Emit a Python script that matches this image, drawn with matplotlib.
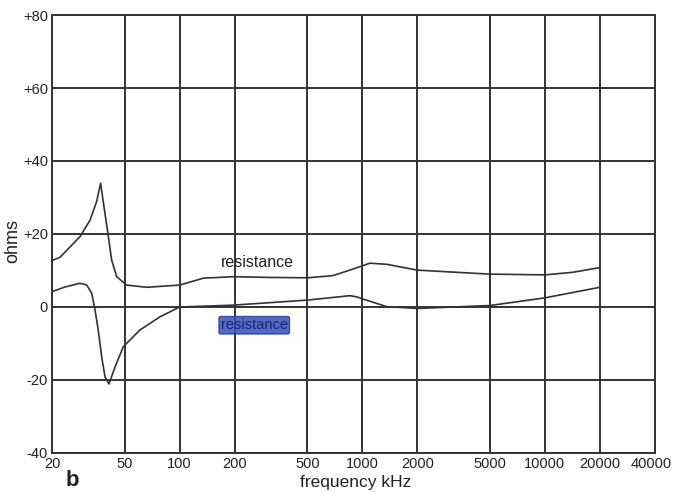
"""
impedance_plot.py
resistance / reactance vs frequency
"""
import matplotlib
matplotlib.use('Agg')
import matplotlib.pyplot as plt
import matplotlib.transforms as mtransforms
import numpy as np

plt.rcParams['font.family'] = ['Liberation Sans', 'DejaVu Sans']

# frequency ticks (kHz) and ohm ticks
xticks = [20, 50, 100, 200, 500, 1000, 2000, 5000, 10000, 20000, 40000]
yticks = [80, 60, 40, 20, 0, -20, -40]
ytick_labels = ['+80', '+60', '+40', '+20', '0', '-20', '-40']

# resistance curve
res_f = [20, 22.1, 28.5, 32.3, 35.1, 36.9, 38.5, 40.7, 42.4, 45.2, 51.3, 66, 100,
         135, 196, 312, 504, 690, 855, 1100, 1360, 2000, 5000, 10000, 14200, 20000]
res_ohm = [12.7, 13.6, 19.3, 23.8, 28.9, 33.9, 27.5, 19.3, 12.9, 8.3, 6.0, 5.4, 6.0,
           7.9, 8.3, 8.1, 8.0, 8.6, 10.1, 12.0, 11.7, 10.1, 9.0, 8.8, 9.5, 10.8]

# reactance curve
rea_f = [20, 23.6, 28.5, 31.0, 33.0, 34.4, 35.8, 37.4, 39.0, 41.0, 44.3, 49.1, 60.6,
         78, 100, 196, 504, 855, 930, 1007, 1360, 2000, 5000, 10000, 20000]
rea_ohm = [4.2, 5.5, 6.5, 6.0, 3.75, -0.8, -6.3, -13.6, -19.1, -21.1, -16.4, -10.9, -6.3,
           -2.7, 0.0, 0.5, 1.9, 3.1, 2.8, 2.2, 0.1, -0.4, 0.4, 2.5, 5.4]

fig = plt.figure(figsize=(6.73, 4.92), dpi=100)
ax = fig.add_axes([0.0773, 0.0793, 0.8957, 0.8902])

ax.plot(res_f, res_ohm, color='#333333', lw=1.2)
ax.plot(rea_f, rea_ohm, color='#333333', lw=1.2)

ax.set_xscale('log')
ax.set_xlim(20, 40000)
ax.set_ylim(-40, 80)
ax.set_xticks(xticks)
ax.set_xticklabels([str(t) for t in xticks])
ax.minorticks_off()
ax.set_yticks(yticks)
ax.set_yticklabels(ytick_labels)
ax.tick_params(length=0, labelsize=10.5, colors='#222222', pad=3)
ax.grid(True, color='#333333', lw=1.4)
for s in ax.spines.values():
    s.set_color('#333333')
    s.set_linewidth(1.4)

# last label sits against the right edge
last = ax.get_xticklabels()[-1]
last.set_horizontalalignment('right')
last.set_transform(last.get_transform() +
                   mtransforms.ScaledTranslation(17 / 100, 0, fig.dpi_scale_trans))

ax.text(265, 12.3, 'resistance', fontsize=11.5, color='#222222',
        ha='center', va='center')
# crossed out label (blue pen)
ax.text(256, -5.0, 'resistance', fontsize=10.5, color='#1a2470',
        ha='center', va='center',
        bbox=dict(boxstyle='round,pad=0.12', facecolor='#3450c0',
                  edgecolor='#2a3fa0', alpha=0.85))

fig.text(0.006, 0.51, 'ohms', rotation=90, fontsize=13, color='#222222',
         ha='left', va='center')
fig.text(0.528, 0.004, 'frequency kHz', fontsize=12.5, color='#222222',
         ha='center', va='bottom')
fig.text(0.097, 0.002, 'b', fontsize=16, fontweight='bold', color='#222222',
         ha='left', va='bottom')

plt.savefig('out.png', dpi=100)
